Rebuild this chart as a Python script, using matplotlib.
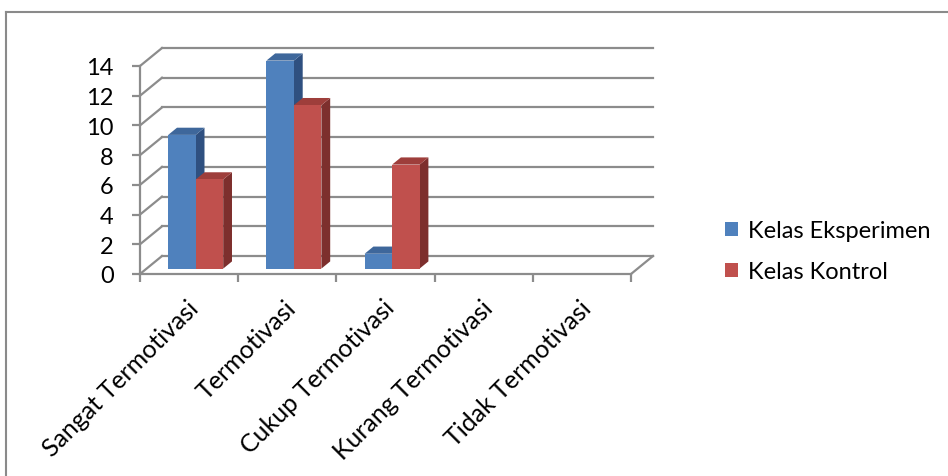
import matplotlib
matplotlib.use("Agg")
import matplotlib.pyplot as plt
from matplotlib.patches import Polygon, Patch
from matplotlib.lines import Line2D

plt.rcParams['font.family'] = ['Lato', 'DejaVu Sans']

categories = ["Sangat Termotivasi", "Termotivasi", "Cukup Termotivasi",
              "Kurang Termotivasi", "Tidak Termotivasi"]
eksperimen = [9, 14, 1, 0, 0]
kontrol = [6, 11, 7, 0, 0]
series_names = ["Kelas Eksperimen", "Kelas Kontrol"]
yticks = [0, 2, 4, 6, 8, 10, 12, 14]

# colours: front, top, side
blue = ("#4F81BD", "#3E679B", "#2F5080")
red = ("#C0504D", "#9E3E3B", "#7D2F2D")
grid_c = "#8C8C8C"
fs = 17

W, H = 948, 477
fig = plt.figure(figsize=(W / 100, H / 100), dpi=100)

# plot area in pixels: front axis x 140..631, y 275 (0) .. 67 (14)
ax = fig.add_axes([140 / W, 1 - 275 / H, (631 - 140) / W, (275 - 67) / H])
ax.set_xlim(0, 5)
ax.set_ylim(0, 14)

# depth vector of the whole box (data units)
DX, DY = 0.224, 1.21
n = len(categories)

# back wall gridlines + left wall diagonals
for v in yticks:
    ax.plot([DX, n + DX], [v + DY, v + DY], color=grid_c, lw=1.6, clip_on=False, zorder=1)
    ax.plot([0, DX], [v, v + DY], color=grid_c, lw=1.6, clip_on=False, zorder=1)
# right edge of floor
ax.plot([n, n + DX], [0, DY], color=grid_c, lw=1.6, clip_on=False, zorder=1)


def bar3d(x0, w, h, cols, z):
    f0, f1 = 0.3, 0.7
    bx, by = x0 + f0 * DX, f0 * DY
    ddx, ddy = (f1 - f0) * DX, (f1 - f0) * DY
    front = [(bx, by), (bx + w, by), (bx + w, by + h), (bx, by + h)]
    top = [(bx, by + h), (bx + w, by + h), (bx + w + ddx, by + h + ddy), (bx + ddx, by + h + ddy)]
    side = [(bx + w, by), (bx + w + ddx, by + ddy), (bx + w + ddx, by + h + ddy), (bx + w, by + h)]
    for pts, c in ((side, cols[2]), (top, cols[1]), (front, cols[0])):
        ax.add_patch(Polygon(pts, closed=True, facecolor=c, edgecolor="none",
                             clip_on=False, zorder=z))


bw = 0.28
for i in range(n):
    left = i + 0.5 - bw
    if eksperimen[i] > 0:
        bar3d(left, bw, eksperimen[i], blue, 3 + 2 * i)
    if kontrol[i] > 0:
        bar3d(left + bw, bw, kontrol[i], red, 4 + 2 * i)

for s in ("top", "right"):
    ax.spines[s].set_visible(False)
for s in ("left", "bottom"):
    ax.spines[s].set_color(grid_c)
    ax.spines[s].set_linewidth(1.6)
ax.patch.set_visible(False)

ax.set_yticks(yticks)
ax.set_yticklabels([str(v) for v in yticks], fontsize=fs)
ax.set_xticks(range(n + 1))
ax.set_xticklabels([])
ax.tick_params(axis="y", length=6, width=1.6, color=grid_c, pad=13)
ax.tick_params(axis="x", length=6, width=1.6, color=grid_c)

for i, lab in enumerate(categories):
    ax.text(i + 0.47, -1.45, lab, rotation=45, rotation_mode="anchor",
            ha="right", va="top", fontsize=18)

handles = [Patch(facecolor=blue[0]), Patch(facecolor=red[0])]
fig.legend(handles, series_names, loc="center left",
           bbox_to_anchor=(713 / W, 1 - 252 / H), frameon=False, fontsize=fs,
           handlelength=0.55, handleheight=0.55, handletextpad=0.45,
           labelspacing=0.85, borderpad=0)

# outer chart border (only top and left visible in the crop)
fig.add_artist(Line2D([5.5 / W, 1], [1 - 12.5 / H, 1 - 12.5 / H], color="#8A8A8A", lw=1.5))
fig.add_artist(Line2D([5.5 / W, 5.5 / W], [0, 1 - 12.5 / H], color="#8A8A8A", lw=1.5))

fig.savefig("out.png", dpi=100)
